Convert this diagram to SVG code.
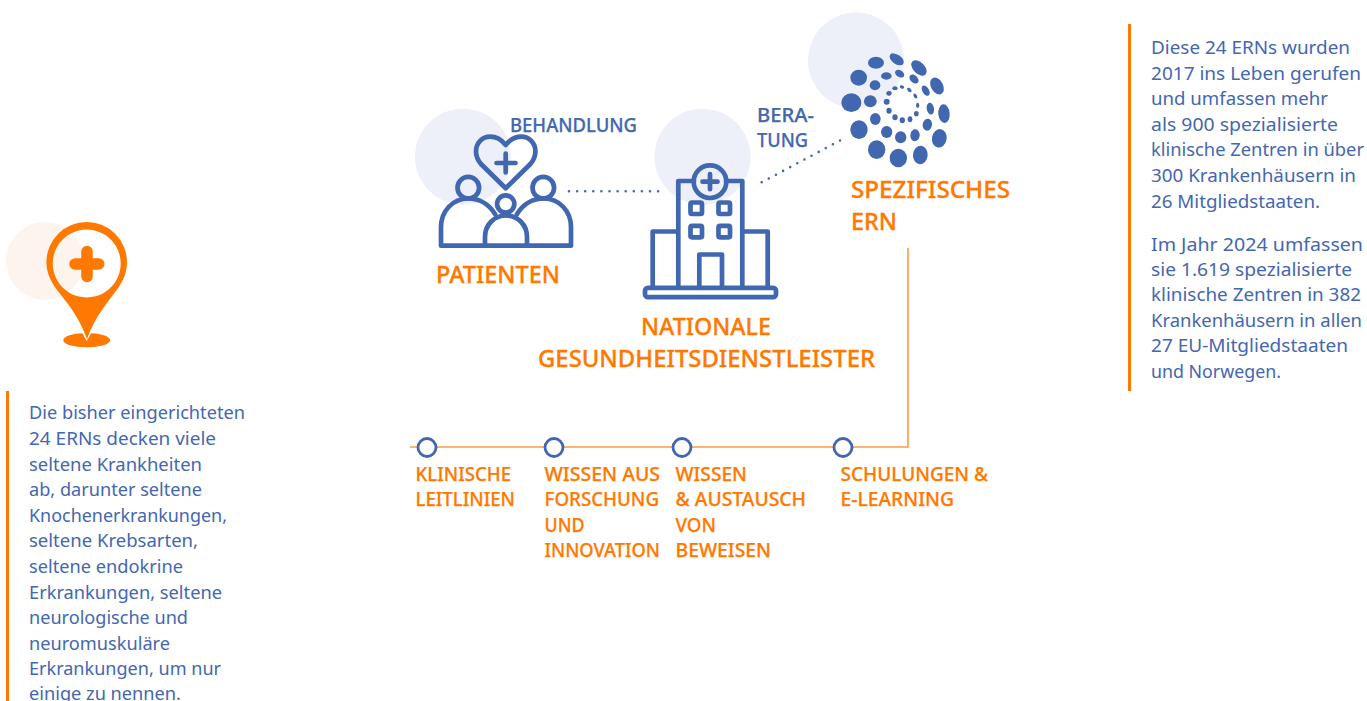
<svg xmlns="http://www.w3.org/2000/svg" width="1367" height="701" viewBox="0 0 1367 701">
<style>
text{font-family:"Noto Sans","Open Sans","Liberation Sans",sans-serif}
.b{font-size:18px;fill:#4367b0}
.l{font-size:19px;fill:#4367b0;font-weight:500;stroke:#4367b0;stroke-width:.25}
.h{font-size:23px;fill:#ff7900;font-weight:500;stroke:#ff7900;stroke-width:.3}
.s{font-size:19px;fill:#ff7900;font-weight:500;stroke:#ff7900;stroke-width:.25}
.bg{fill:#edf0f8}
.i{fill:none;stroke:#4167b1;stroke-width:4.700;stroke-linejoin:round;stroke-linecap:round}
.bar{fill:#ff7900}
.dot{fill:#fff;stroke:#4167b1;stroke-width:2.800}
.e{fill:#4167b1}
</style>
<rect width="1367" height="701" fill="#fff"/>
<g id="connectors">
<path d="M569 191.300H659" fill="none" stroke="#4367b0" stroke-width="2.600" stroke-linecap="round" stroke-dasharray="0 8.100"/>
<path d="M761.700 182.300L841.500 139.700" fill="none" stroke="#4367b0" stroke-width="2.600" stroke-linecap="round" stroke-dasharray="0 8.070"/>
<path d="M908 248V447H410" fill="none" stroke="#ff9a45" stroke-width="1.600"/>
</g>
<g id="pin-note">
<circle cx="45" cy="261" r="39" fill="#fdf4ee"/>
<path fill-rule="evenodd" fill="#ff7900" d="M86.700 222a40.300 40.300 0 0 1 40.300 40.300c0 16-9 26-18 38c-8 10.500-16 22-22 39c-6-17-14-29-22-39c-9-12-18.600-22-18.600-38a40.300 40.300 0 0 1 40.300-40.300zM86.700 229.500a34 34 0 1 0 .01 0z"/>
<path fill="#ff7900" d="M63.300 340.300c0-3.700 8-6.500 19-7l4.400 7.700l4.400-7.700c11 .5 19 3.300 19 7c0 4-10 7-23.400 7s-23.400-3-23.400-7z"/>
<path d="M75 264H98.800M87 251.500V276.500" fill="none" stroke="#ff7900" stroke-width="11.500" stroke-linecap="round"/>
<rect class="bar" x="6" y="391" width="3" height="310"/>
<text class="b" x="29" y="419" textLength="216" lengthAdjust="spacingAndGlyphs">Die bisher eingerichteten</text>
<text class="b" x="29" y="445" textLength="187" lengthAdjust="spacingAndGlyphs">24 ERNs decken viele</text>
<text class="b" x="29" y="471" textLength="173" lengthAdjust="spacingAndGlyphs">seltene Krankheiten</text>
<text class="b" x="29" y="496" textLength="173" lengthAdjust="spacingAndGlyphs">ab, darunter seltene</text>
<text class="b" x="29" y="522" textLength="198" lengthAdjust="spacingAndGlyphs">Knochenerkrankungen,</text>
<text class="b" x="29" y="547" textLength="169" lengthAdjust="spacingAndGlyphs">seltene Krebsarten,</text>
<text class="b" x="29" y="573" textLength="154" lengthAdjust="spacingAndGlyphs">seltene endokrine</text>
<text class="b" x="29" y="598.500" textLength="193" lengthAdjust="spacingAndGlyphs">Erkrankungen, seltene</text>
<text class="b" x="29" y="624" textLength="159" lengthAdjust="spacingAndGlyphs">neurologische und</text>
<text class="b" x="29" y="649.500" textLength="141" lengthAdjust="spacingAndGlyphs">neuromuskuläre</text>
<text class="b" x="29" y="675" textLength="192" lengthAdjust="spacingAndGlyphs">Erkrankungen, um nur</text>
<text class="b" x="29" y="700" textLength="152" lengthAdjust="spacingAndGlyphs">einige zu nennen.</text>
</g>
<g id="patienten">
<circle class="bg" cx="463" cy="156.700" r="48"/>
<circle class="i" cx="468.300" cy="187.700" r="10.800"/>
<circle class="i" cx="543.300" cy="187.700" r="10.800"/>
<circle class="i" cx="505.700" cy="204" r="8.600"/>
<path class="i" d="M441 245.700H571M441 245.700V227c0-16 12-28.500 27-28.500c12 0 21 6 27 15.500M571 245.700V227c0-16-12-28.500-27-28.500c-12 0-21 6-27 15.500M485 245.700V237c0-12 9-21.500 21-21.500s21 9.500 21 21.500v8.700"/>
<path class="i" d="M505.700 145c-4-5-10-8.300-15.500-8.300c-8 0-14.200 6.300-14.200 14.800c0 5 2 9 5 12.500l24.700 24.300l24.700-24.300c3-3.500 5-7.500 5-12.500c0-8.500-6.200-14.800-14.200-14.800c-5.500 0-11.500 3.300-15.500 8.300z"/>
<path class="i" d="M496.500 163H515.500M505.700 153.500V172.500"/>
<text class="h" x="436" y="283" textLength="124" lengthAdjust="spacingAndGlyphs">PATIENTEN</text>
<text class="l" x="510" y="132" textLength="127" lengthAdjust="spacingAndGlyphs">BEHANDLUNG</text>
</g>
<g id="dienstleister">
<circle class="bg" cx="702.500" cy="156.700" r="48"/>
<path class="i" d="M694 181H678.300V287M726 181H742.300V287M678.300 231.500H652.700V287M742.300 231.500H767.700V287M699.300 287V254.500H722V287"/>
<rect class="i" x="645" y="287.800" width="131" height="9.400" rx="3"/>
<circle class="i" cx="710" cy="181.700" r="16.300"/>
<path class="i" d="M702.500 181.700H717.500M710 174.200V189.200"/>
<rect class="i" x="690.500" y="202.500" width="11.500" height="11.500" rx="1.500"/>
<rect class="i" x="718.500" y="202.500" width="11.500" height="11.500" rx="1.500"/>
<rect class="i" x="690.500" y="225.800" width="11.500" height="11.500" rx="1.500"/>
<rect class="i" x="718.500" y="225.800" width="11.500" height="11.500" rx="1.500"/>
<text class="h" x="641" y="335" textLength="130" lengthAdjust="spacingAndGlyphs">NATIONALE</text>
<text class="h" x="538" y="367" textLength="337" lengthAdjust="spacingAndGlyphs">GESUNDHEITSDIENSTLEISTER</text>
</g>
<g id="ern">
<circle class="bg" cx="856" cy="60.500" r="48"/>
<g transform="translate(780 0) scale(.33333)">
<ellipse class="e" cx="288" cy="188" rx="24" ry="18"/>
<ellipse class="e" cx="350" cy="178" rx="24" ry="14" transform="rotate(35 350 178)"/>
<ellipse class="e" cx="417" cy="204" rx="28" ry="17" transform="rotate(45 417 204)"/>
<ellipse class="e" cx="471" cy="258" rx="27" ry="18" transform="rotate(60 471 258)"/>
<ellipse class="e" cx="492" cy="341" rx="17" ry="28" transform="rotate(-5 492 341)"/>
<ellipse class="e" cx="478" cy="415" rx="22" ry="28" transform="rotate(10 478 415)"/>
<ellipse class="e" cx="421" cy="465" rx="22" ry="28" transform="rotate(5 421 465)"/>
<ellipse class="e" cx="355" cy="474" rx="26" ry="28"/>
<ellipse class="e" cx="290" cy="449" rx="26" ry="28"/>
<ellipse class="e" cx="237" cy="389" rx="26" ry="28"/>
<ellipse class="e" cx="214" cy="308" rx="30" ry="28"/>
<ellipse class="e" cx="236" cy="233" rx="25" ry="24"/>
<ellipse class="e" cx="285" cy="256" rx="16" ry="15"/>
<ellipse class="e" cx="319" cy="228" rx="16" ry="11"/>
<ellipse class="e" cx="359" cy="221" rx="15" ry="10" transform="rotate(30 359 221)"/>
<ellipse class="e" cx="402" cy="237" rx="16" ry="11" transform="rotate(45 402 237)"/>
<ellipse class="e" cx="437" cy="272" rx="17" ry="10" transform="rotate(60 437 272)"/>
<ellipse class="e" cx="451" cy="326" rx="11" ry="18" transform="rotate(-10 451 326)"/>
<ellipse class="e" cx="442" cy="374" rx="14" ry="18" transform="rotate(10 442 374)"/>
<ellipse class="e" cx="405" cy="406" rx="14" ry="18" transform="rotate(5 405 406)"/>
<ellipse class="e" cx="362" cy="412" rx="17" ry="18"/>
<ellipse class="e" cx="320" cy="396" rx="17" ry="18"/>
<ellipse class="e" cx="286" cy="357" rx="16" ry="18"/>
<ellipse class="e" cx="271" cy="304" rx="19" ry="18"/>
<ellipse class="e" cx="345" cy="265" rx="8" ry="6"/>
<ellipse class="e" cx="366" cy="261" rx="7" ry="5" transform="rotate(20 366 261)"/>
<ellipse class="e" cx="388" cy="270" rx="8" ry="5" transform="rotate(45 388 270)"/>
<ellipse class="e" cx="406" cy="288" rx="8" ry="5" transform="rotate(60 406 288)"/>
<ellipse class="e" cx="413" cy="316" rx="5" ry="8"/>
<ellipse class="e" cx="409" cy="341" rx="7" ry="8"/>
<ellipse class="e" cx="390" cy="358" rx="7" ry="9"/>
<ellipse class="e" cx="367" cy="361" rx="8" ry="9"/>
<ellipse class="e" cx="345" cy="352" rx="8" ry="9"/>
<ellipse class="e" cx="327" cy="332" rx="8" ry="9"/>
<ellipse class="e" cx="320" cy="305" rx="9" ry="9"/>
<ellipse class="e" cx="327" cy="280" rx="8" ry="7"/>
</g>
<text class="h" x="851" y="198" textLength="159" lengthAdjust="spacingAndGlyphs">SPEZIFISCHES</text>
<text class="h" x="851" y="230" textLength="46" lengthAdjust="spacingAndGlyphs">ERN</text>
<text class="l" x="757" y="122" textLength="57" lengthAdjust="spacingAndGlyphs">BERA-</text>
<text class="l" x="757" y="147" textLength="51" lengthAdjust="spacingAndGlyphs">TUNG</text>
</g>
<g id="klinische">
<circle class="dot" cx="427" cy="447.500" r="9"/>
<text class="s" x="415.500" y="481" textLength="95.500" lengthAdjust="spacingAndGlyphs">KLINISCHE</text>
<text class="s" x="415.500" y="506" textLength="99.500" lengthAdjust="spacingAndGlyphs">LEITLINIEN</text>
</g>
<g id="wissen-forschung">
<circle class="dot" cx="554" cy="447.500" r="9"/>
<text class="s" x="544.500" y="481" textLength="115.500" lengthAdjust="spacingAndGlyphs">WISSEN AUS</text>
<text class="s" x="544.500" y="506" textLength="114.500" lengthAdjust="spacingAndGlyphs">FORSCHUNG</text>
<text class="s" x="544.500" y="531.500" textLength="40" lengthAdjust="spacingAndGlyphs">UND</text>
<text class="s" x="544.500" y="557" textLength="115.500" lengthAdjust="spacingAndGlyphs">INNOVATION</text>
</g>
<g id="wissen-austausch">
<circle class="dot" cx="682" cy="447.500" r="9"/>
<text class="s" x="675.500" y="481" textLength="71.500" lengthAdjust="spacingAndGlyphs">WISSEN</text>
<text class="s" x="675.500" y="506" textLength="130.500" lengthAdjust="spacingAndGlyphs">&amp; AUSTAUSCH</text>
<text class="s" x="675.500" y="531.500" textLength="40.500" lengthAdjust="spacingAndGlyphs">VON</text>
<text class="s" x="675.500" y="557" textLength="95.500" lengthAdjust="spacingAndGlyphs">BEWEISEN</text>
</g>
<g id="schulungen">
<circle class="dot" cx="843" cy="447.500" r="9"/>
<text class="s" x="840.500" y="481" textLength="147.500" lengthAdjust="spacingAndGlyphs">SCHULUNGEN &amp;</text>
<text class="s" x="840.500" y="506" textLength="113.500" lengthAdjust="spacingAndGlyphs">E-LEARNING</text>
</g>
<g id="info-note">
<rect class="bar" x="1128" y="24" width="3" height="367"/>
<text class="b" x="1151" y="53.500" textLength="199" lengthAdjust="spacingAndGlyphs">Diese 24 ERNs wurden</text>
<text class="b" x="1151" y="79.500" textLength="210" lengthAdjust="spacingAndGlyphs">2017 ins Leben gerufen</text>
<text class="b" x="1151" y="104.500" textLength="177" lengthAdjust="spacingAndGlyphs">und umfassen mehr</text>
<text class="b" x="1151" y="130.500" textLength="187" lengthAdjust="spacingAndGlyphs">als 900 spezialisierte</text>
<text class="b" x="1151" y="155.500" textLength="213" lengthAdjust="spacingAndGlyphs">klinische Zentren in über</text>
<text class="b" x="1151" y="181.500" textLength="205" lengthAdjust="spacingAndGlyphs">300 Krankenhäusern in</text>
<text class="b" x="1151" y="207.500" textLength="169" lengthAdjust="spacingAndGlyphs">26 Mitgliedstaaten.</text>
<text class="b" x="1151" y="250.500" textLength="212" lengthAdjust="spacingAndGlyphs">Im Jahr 2024 umfassen</text>
<text class="b" x="1151" y="275.500" textLength="201" lengthAdjust="spacingAndGlyphs">sie 1.619 spezialisierte</text>
<text class="b" x="1151" y="300.500" textLength="210" lengthAdjust="spacingAndGlyphs">klinische Zentren in 382</text>
<text class="b" x="1151" y="326.500" textLength="211" lengthAdjust="spacingAndGlyphs">Krankenhäusern in allen</text>
<text class="b" x="1151" y="351.500" textLength="197" lengthAdjust="spacingAndGlyphs">27 EU-Mitgliedstaaten</text>
<text class="b" x="1151" y="377.500" textLength="130" lengthAdjust="spacingAndGlyphs">und Norwegen.</text>
</g>
</svg>
